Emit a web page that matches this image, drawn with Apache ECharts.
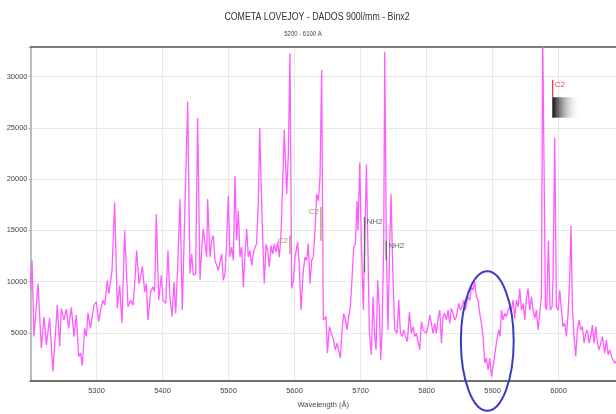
<!DOCTYPE html>
<html>
<head>
<meta charset="utf-8">
<script src="https://cdn.jsdelivr.net/npm/echarts@6/dist/echarts.min.js"></script>
<style>
  html, body { margin: 0; padding: 0; background: #fff; }
  #chart_spectrum { width: 616px; height: 414px; }
</style>
</head>
<body>
<div id="chart_spectrum"></div>
<script>
/**
 * Espectro cometa Lovejoy
 */
var wavelength = [
  5200.2, 5202.3, 5205.3, 5211.4, 5216.4, 5220.4, 5224.0, 5229.0, 5234.0, 5240.6,
  5244.2, 5246.7, 5250.7, 5254.3, 5257.8, 5261.9, 5265.9, 5269.4, 5273.0, 5276.0,
  5278.5, 5282.0, 5284.6, 5287.1, 5290.6, 5296.2, 5299.7, 5303.3, 5306.3, 5309.8,
  5312.4, 5316.4, 5318.9, 5323.5, 5327.5, 5331.5, 5335.1, 5338.6, 5342.6, 5347.7,
  5351.7, 5355.3, 5357.8, 5360.8, 5364.4, 5366.9, 5369.4, 5373.0, 5375.5, 5378.0,
  5382.0, 5385.6, 5388.1, 5390.6, 5394.2, 5398.2, 5400.7, 5404.8, 5408.3, 5410.8,
  5414.4, 5417.4, 5419.9, 5422.9, 5426.5, 5430.0, 5438.1, 5441.6, 5444.2, 5446.7,
  5450.2, 5453.2, 5456.8, 5459.3, 5461.8, 5464.4, 5466.9, 5468.4, 5471.9, 5474.5,
  5477.0, 5479.5, 5482.0, 5484.6, 5487.1, 5489.6, 5492.1, 5494.7, 5497.2, 5499.7,
  5502.2, 5504.8, 5507.3, 5509.8, 5512.3, 5514.9, 5517.4, 5519.9, 5522.4, 5525.0,
  5527.5, 5530.0, 5532.5, 5535.1, 5537.6, 5540.1, 5542.6, 5545.2, 5547.2, 5550.2,
  5552.7, 5554.2, 5556.8, 5559.3, 5561.8, 5564.3, 5566.9, 5569.4, 5571.9, 5574.4,
  5577.0, 5579.5, 5581.5, 5584.5, 5588.1, 5590.6, 5593.1, 5595.7, 5598.2, 5600.7,
  5604.7, 5606.8, 5609.8, 5613.3, 5615.9, 5618.4, 5620.9, 5623.4, 5626.0, 5628.5,
  5631.0, 5633.5, 5636.1, 5638.6, 5641.1, 5643.6, 5647.8, 5649.8, 5652.8, 5655.8,
  5658.9, 5661.9, 5664.4, 5666.9, 5669.5, 5672.0, 5674.5, 5677.1, 5679.6, 5682.1,
  5684.6, 5687.2, 5689.7, 5692.2, 5694.7, 5696.2, 5698.8, 5701.3, 5704.3, 5706.3,
  5708.9, 5711.4, 5713.4, 5716.4, 5719.0, 5721.5, 5723.5, 5726.0, 5728.6, 5730.6,
  5732.6, 5735.1, 5736.6, 5739.2, 5741.7, 5744.2, 5746.2, 5748.8, 5751.8, 5755.3,
  5757.9, 5760.4, 5762.9, 5765.4, 5768.0, 5771.0, 5774.0, 5777.0, 5779.6, 5782.1,
  5784.6, 5787.1, 5789.7, 5792.2, 5794.7, 5797.2, 5799.8, 5802.3, 5804.8, 5807.3,
  5809.9, 5812.4, 5814.9, 5817.4, 5820.0, 5822.5, 5825.0, 5827.5, 5830.1, 5832.6,
  5835.1, 5837.6, 5840.2, 5842.7, 5845.2, 5848.8, 5851.3, 5853.8, 5856.3, 5858.9,
  5862.4, 5865.4, 5867.9, 5870.5, 5873.0, 5875.5, 5878.1, 5880.6, 5883.1, 5885.6,
  5888.2, 5890.7, 5893.2, 5895.7, 5898.3, 5899.8, 5901.8, 5904.3, 5907.3, 5909.4,
  5911.4, 5913.4, 5915.9, 5918.5, 5921.0, 5923.5, 5926.0, 5928.6, 5931.1, 5933.6,
  5936.1, 5938.7, 5941.2, 5943.7, 5946.2, 5948.8, 5951.3, 5953.8, 5956.3, 5958.9,
  5961.4, 5963.9, 5966.4, 5969.0, 5971.5, 5974.0, 5976.0, 5980.1, 5982.1, 5984.6,
  5987.1, 5990.2, 5991.7, 5994.2, 5996.7, 5999.3, 6001.8, 6004.3, 6006.8, 6009.3,
  6011.9, 6014.4, 6016.9, 6018.9, 6021.0, 6023.5, 6026.0, 6028.5, 6031.1, 6033.6,
  6036.1, 6038.6, 6041.2, 6043.7, 6046.2, 6048.7, 6051.3, 6053.8, 6056.3, 6058.8,
  6061.4, 6063.9, 6066.4, 6069.9, 6072.5, 6075.0, 6077.5, 6080.0, 6082.6, 6085.1,
  6087.1
];

var flux = [
  9162, 12072, 4636, 9808, 3504, 6575, 3827, 6414, 1241, 7707,
  3666, 7384, 6252, 7319, 5444, 7481, 4636, 6737, 2696, 3019,
  1791, 5444, 4636, 6963, 5444, 7707, 8030, 6090, 7222, 8192,
  7707, 10132, 8838, 11102, 17729, 7384, 9647, 5929, 14981, 7545,
  8192, 7707, 9808, 13041, 9808, 10455, 11490, 9000, 9808, 6252,
  9000, 9485, 9000, 16598, 8192, 10617, 8192, 7868, 13041, 8838,
  6575, 9970, 6898, 11263, 18052, 7222, 27590, 10778, 12718, 10617,
  10778, 25973, 10132, 13041, 15143, 13688, 12395, 18052, 12395, 14011,
  14496, 12072, 11910, 11102, 11263, 12718, 10132, 10778, 14011, 18376,
  12395, 13365, 12072, 20316, 14011, 16921, 12395, 13365, 9485, 12718,
  15143, 12395, 13041, 11587, 12718, 13365, 13688, 17891, 25004, 17568,
  12395, 9808, 13688, 13041, 11425, 13526, 12718, 13688, 12880, 13850,
  12395, 14658, 18538, 24842, 18538, 22417, 32278, 9323, 10132, 12395,
  13850, 12072, 7222, 11102, 12395, 12072, 13688, 9808, 12072, 12395,
  14981, 18538, 17891, 20154, 30661, 6252, 6575, 3019, 5605, 4959,
  4312, 3342, 3989, 3827, 2534, 5282, 6898, 6252, 5282, 6575,
  7545, 10455, 13365, 13688, 17891, 14981, 21609, 13688, 7222, 13688,
  21447, 12395, 4959, 2857, 8515, 4636, 3342, 10132, 7222, 2372,
  5282, 13688, 32439, 12395, 5282, 13688, 18538, 11102, 5282, 4959,
  8192, 4959, 4636, 5282, 4636, 4151, 7060, 4959, 5605, 4636,
  4959, 4797, 3342, 6090, 5282, 5444, 4959, 5605, 6737, 5929,
  4959, 5929, 4959, 6414, 7222, 3989, 6575, 6898, 6252, 7222,
  5929, 7384, 6898, 6252, 6575, 7868, 7222, 7545, 8192, 7222,
  8515, 8192, 9485, 9162, 9970, 8515, 8192, 6898, 5929, 4636,
  2049, 2534, 1401, 2534, 756, 1401, 2049, 3342, 4636, 5282,
  4636, 7222, 6252, 6898, 6575, 7222, 7545, 7222, 8192, 6414,
  8192, 7545, 9323, 7222, 7868, 6252, 8354, 9323, 7222, 8515,
  7222, 6414, 7222, 5282, 6898, 8515, 34000, 7545, 7222, 14011,
  7222, 7545, 10455, 24034, 7545, 7222, 9162, 7222, 5605, 5929,
  4636, 6898, 10455, 15466, 7222, 4636, 2696, 5282, 6252, 5282,
  5605, 3989, 4959, 5282, 3989, 4636, 5767, 3989, 5605, 3989,
  3342, 3989, 4636, 3019, 4312, 2857, 3342, 2696, 2534, 2049,
  2211
];

// linhas identificadas
var lineNames = ['C2', 'C2', 'NH2', 'NH2', 'C2'];
var lineWave = [5593, 5640, 5706, 5739, 5991];
var lineTop = [14500, 17300, 16300, 14000, 29700];
var lineBottom = [12700, 14000, 10900, 12100, 27900];
var lineSide = ['left', 'left', 'right', 'right', 'right'];
var lineColors = ['#b4926e', '#b4926e', '#4f6f4f', '#4f6f4f', '#ff3b3b'];

// marca em 5900 (Na D)
var ellipseWave = [5852, 5932];
var ellipseFlux = [11000, -2600];

var labelFont = 'Liberation Sans, Arial, sans-serif';

var chart_spectrum = echarts.init(document.getElementById('chart_spectrum'));

var seriesData = wavelength.map(function (w, i) { return [w, flux[i]]; });

var chart_spectrum_option = {
    backgroundColor: '#ffffff',
    animation: false,
    grid: { left: 30.5, right: 0, top: 47, bottom: 31 },
    xAxis: [{
        type: 'value',
        min: 5200,
        max: 6087,
        interval: 100,
        name: 'Wavelength (Å)',
        nameLocation: 'middle',
        nameGap: 20,
        nameTextStyle: { fontSize: 7.5, color: '#444', fontFamily: labelFont },
        axisLine: { lineStyle: { color: '#444', width: 1.5 } },
        axisTick: { show: false },
        axisLabel: {
            fontSize: 7.5, color: '#444', margin: 6, showMinLabel: false, showMaxLabel: false,
            fontFamily: labelFont,
            formatter: function (v) { return String(v); }
        },
        splitLine: { show: true, lineStyle: { color: '#e8e8e8', width: 1 } }
    }, {
        type: 'value',
        position: 'top',
        min: 5200,
        max: 6087,
        axisLine: { show: true, lineStyle: { color: '#555', width: 1.5 } },
        axisTick: { show: false },
        axisLabel: { show: false },
        splitLine: { show: false }
    }],
    yAxis: {
        type: 'value',
        min: 300,
        max: 32900,
        minInterval: 5000,
        maxInterval: 5000,
        axisLine: { show: true, lineStyle: { color: '#aaaaaa', width: 1.5 } },
        axisTick: { show: true, length: 2, lineStyle: { color: '#8fb4dd' } },
        axisLabel: {
            fontSize: 7.5, color: '#444', margin: 3,
            fontFamily: labelFont,
            formatter: function (v) { return v % 5000 === 0 ? String(v) : ''; }
        },
        splitLine: { show: true, lineStyle: { color: '#e8e8e8', width: 1 } }
    },
    series: [{
        name: 'Lovejoy',
        type: 'line',
        data: seriesData,
        symbol: 'none',
        clip: true,
        lineStyle: { color: '#ff5cff', width: 1.3 }
    }]
};
chart_spectrum.setOption(chart_spectrum_option);

drawAnnotations();

function drawAnnotations() {
    var px = function (w, v) { return chart_spectrum.convertToPixel({ gridIndex: 0 }, [w, v]); };
    var g = [];

    g.push({ type: 'text', x: 317, y: 17, scaleX: 0.8, style: { text: 'COMETA LOVEJOY - DADOS 900l/mm - Binx2', fontSize: 11, fill: '#333',
        fontFamily: labelFont, align: 'center', verticalAlign: 'middle' } });
    g.push({ type: 'text', x: 303, y: 34, scaleX: 0.85, style: { text: '5200 - 6100 A', fontSize: 7, fill: '#444',
        fontFamily: labelFont, align: 'center', verticalAlign: 'middle' } });

    for (var i = 0; i < lineNames.length; i++) {
        var a = px(lineWave[i], lineTop[i]);
        var b = px(lineWave[i], lineBottom[i]);
        g.push({ type: 'line', z: 50, shape: { x1: a[0], y1: a[1], x2: b[0], y2: b[1] },
            style: { stroke: lineColors[i], lineWidth: 1.3 } });
        var left = lineSide[i] === 'left';
        g.push({ type: 'text', z: 50, x: left ? a[0] - 2 : a[0] + 2, y: a[1] + 5,
            style: { text: lineNames[i], fontSize: 8, fill: lineColors[i], align: left ? 'right' : 'left',
                verticalAlign: 'middle', fontFamily: labelFont } });
    }

    // caixa degradê junto ao C2
    var r1 = px(5990.5, 28000);
    var r2 = px(6033, 26000);
    g.push({ type: 'rect', z: 49, shape: { x: r1[0], y: r1[1], width: r2[0] - r1[0], height: r2[1] - r1[1] },
        style: { fill: new echarts.graphic.LinearGradient(0, 0, 1, 0, [
            { offset: 0, color: '#111111' }, { offset: 1, color: 'rgba(255,255,255,0)' }]) } });

    var e1 = px(ellipseWave[0], ellipseFlux[0]);
    var e2 = px(ellipseWave[1], ellipseFlux[1]);
    g.push({ type: 'ellipse', z: 60,
        shape: { cx: (e1[0] + e2[0]) / 2, cy: (e1[1] + e2[1]) / 2, rx: (e2[0] - e1[0]) / 2, ry: (e2[1] - e1[1]) / 2 },
        style: { fill: 'none', stroke: '#3a3cbf', lineWidth: 2 } });

    chart_spectrum.setOption({ graphic: g });
}
</script>
</body>
</html>
